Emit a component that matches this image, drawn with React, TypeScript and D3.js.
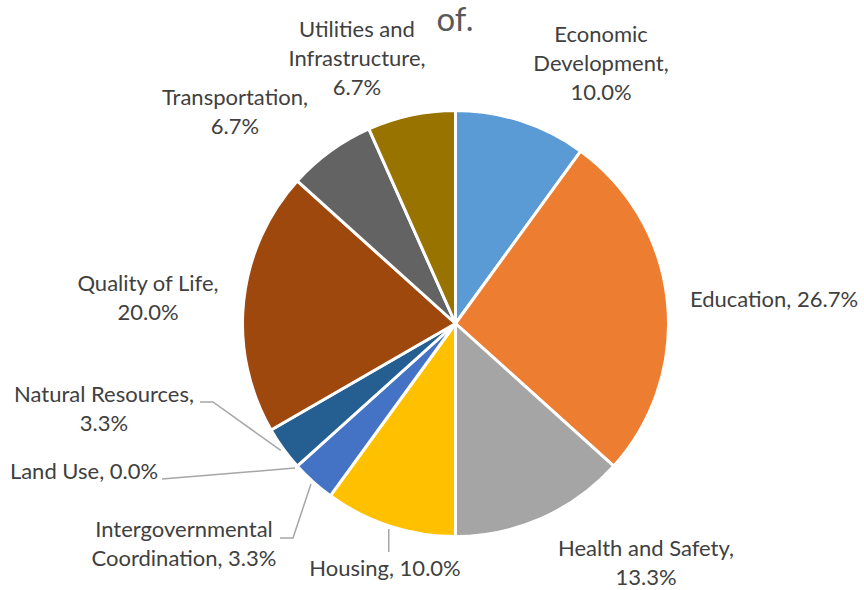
import React from "react";
import * as d3 from "d3";

const categories = [
  "Economic Development",
  "Education",
  "Health and Safety",
  "Housing",
  "Intergovernmental Coordination",
  "Land Use",
  "Natural Resources",
  "Quality of Life",
  "Transportation",
  "Utilities and Infrastructure",
];
const counts = [3, 8, 4, 3, 1, 0, 1, 6, 2, 2];
const colors = [
  "#5B9BD5", "#ED7D31", "#A5A5A5", "#FFC000", "#4472C4",
  "#70AD47", "#255E91", "#9E480E", "#636363", "#997300",
];
// label line breaks (text content)
const labelLines: string[][] = [
  ["Economic", "Development,", "10.0%"],
  ["Education, 26.7%"],
  ["Health and Safety,", "13.3%"],
  ["Housing, 10.0%"],
  ["Intergovernmental", "Coordination, 3.3%"],
  ["Land Use, 0.0%"],
  ["Natural Resources,", "3.3%"],
  ["Quality of Life,", "20.0%"],
  ["Transportation,", "6.7%"],
  ["Utilities and", "Infrastructure,", "6.7%"],
];
const title = "of.";

// layout: label centre x, first baseline y; leader anchor (null = no leader)
const labelPos = [
  { x: 601, y: 42, leader: null },
  { x: 774, y: 307, leader: null },
  { x: 646, y: 556, leader: null },
  { x: 385, y: 576, leader: "down" },
  { x: 184, y: 537, leader: [[280, 538], [293, 538]] },
  { x: 84, y: 479, leader: [[162, 479]] },
  { x: 104, y: 402, leader: [[200, 402], [213, 402]] },
  { x: 148, y: 291, leader: null },
  { x: 235, y: 105, leader: null },
  { x: 357, y: 37, leader: null },
];

export default function App() {
  const width = 864;
  const height = 590;
  const cx = 455.5;
  const cy = 323.5;
  const r = 213;
  const pie = d3.pie<number>().sort(null).value((d) => d)(counts);
  const arc = d3.arc<d3.PieArcDatum<number>>().innerRadius(0).outerRadius(r);
  const lineH = 29;
  const fontFamily = "Lato, 'Liberation Sans', sans-serif";
  const pt = (a: number, rr: number) => [cx + rr * Math.sin(a), cy - rr * Math.cos(a)];

  return (
    <svg width={width} height={height} style={{ position: "absolute", left: 0, top: 0, background: "#fff" }}>
      <text x={455} y={31} textAnchor="middle" fontFamily={fontFamily} fontSize={33} fill="#595959">
        {title}
      </text>
      <g transform={`translate(${cx},${cy})`}>
        {pie.map((p, i) =>
          p.value > 0 ? (
            <path key={i} d={arc(p) || ""} fill={colors[i]} stroke="#fff" strokeWidth={3} strokeLinejoin="round" />
          ) : null
        )}
      </g>
      {pie.map((p, i) => {
        const L = labelPos[i];
        if (!L.leader) return null;
        const mid = (p.startAngle + p.endAngle) / 2;
        const a = pt(mid, r + 3);
        let pts: number[][];
        if (L.leader === "down") pts = [a, [a[0], 552]];
        else pts = [...(L.leader as number[][]), a];
        return (
          <polyline key={"l" + i} points={pts.map((q) => q.join(",")).join(" ")} fill="none" stroke="#A6A6A6" strokeWidth={1.5} />
        );
      })}
      {labelLines.map((lines, i) => (
        <text key={"t" + i} textAnchor="middle" fontFamily={fontFamily} fontSize={22} fill="#404040">
          {lines.map((s, j) => (
            <tspan key={j} x={labelPos[i].x} y={labelPos[i].y + j * lineH}>
              {s}
            </tspan>
          ))}
        </text>
      ))}
    </svg>
  );
}
